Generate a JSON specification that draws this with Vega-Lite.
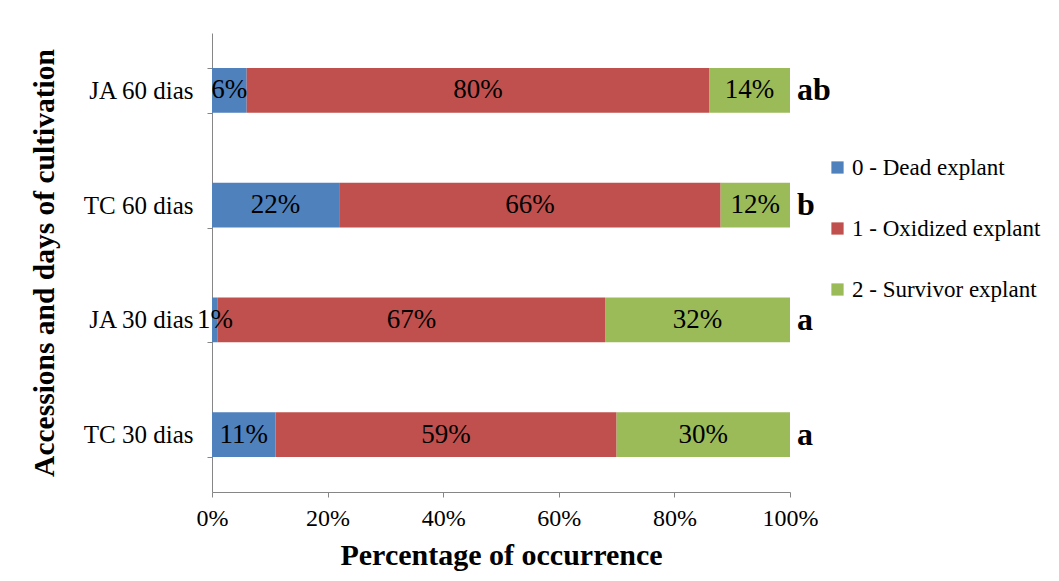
{
  "$schema": "https://vega.github.io/schema/vega-lite/v6.json",
  "width": 578,
  "height": 459,
  "autosize": {"type": "none"},
  "padding": {"left": 212, "top": 33, "right": 269, "bottom": 89},
  "background": "white",
  "config": {
    "font": "'Liberation Serif', 'Times New Roman', Times, serif",
    "view": {"stroke": null},
    "text": {"font": "'Liberation Serif', 'Times New Roman', Times, serif"},
    "legend": {"labelFont": "'Liberation Serif', 'Times New Roman', Times, serif", "titleFont": "'Liberation Serif', 'Times New Roman', Times, serif"},
    "axis": {"domainColor": "#868686", "tickColor": "#868686", "labelColor": "#000000", "titleColor": "#000000", "labelFont": "'Liberation Serif', 'Times New Roman', Times, serif", "titleFont": "'Liberation Serif', 'Times New Roman', Times, serif"}
  },
  "datasets": {
    "bars": [
      {"group": "JA 60 dias", "cls": "0 - Dead explant", "value": 0.06},
      {"group": "JA 60 dias", "cls": "1 - Oxidized explant", "value": 0.80},
      {"group": "JA 60 dias", "cls": "2 - Survivor explant", "value": 0.14},
      {"group": "TC 60 dias", "cls": "0 - Dead explant", "value": 0.22},
      {"group": "TC 60 dias", "cls": "1 - Oxidized explant", "value": 0.66},
      {"group": "TC 60 dias", "cls": "2 - Survivor explant", "value": 0.12},
      {"group": "JA 30 dias", "cls": "0 - Dead explant", "value": 0.01},
      {"group": "JA 30 dias", "cls": "1 - Oxidized explant", "value": 0.67},
      {"group": "JA 30 dias", "cls": "2 - Survivor explant", "value": 0.32},
      {"group": "TC 30 dias", "cls": "0 - Dead explant", "value": 0.11},
      {"group": "TC 30 dias", "cls": "1 - Oxidized explant", "value": 0.59},
      {"group": "TC 30 dias", "cls": "2 - Survivor explant", "value": 0.30}
    ],
    "letters": [
      {"group": "JA 60 dias", "letter": "ab"},
      {"group": "TC 60 dias", "letter": "b"},
      {"group": "JA 30 dias", "letter": "a"},
      {"group": "TC 30 dias", "letter": "a"}
    ]
  },
  "encoding": {
    "y": {
      "field": "group",
      "type": "nominal",
      "sort": ["JA 60 dias", "TC 60 dias", "JA 30 dias", "TC 30 dias"],
      "scale": {"paddingInner": 0.61, "paddingOuter": 0.305},
      "axis": {
        "title": "Accessions and days of cultivation",
        "titleFontSize": 29.5,
        "titleFontWeight": "bold",
        "titlePadding": 24,
        "labelFontSize": 25,
        "labelPadding": 14,
        "tickSize": 5,
        "tickBand": "extent"
      }
    }
  },
  "layer": [
    {
      "data": {"name": "bars"},
      "mark": {"type": "bar"},
      "encoding": {
        "x": {
          "field": "value",
          "type": "quantitative",
          "stack": "zero",
          "scale": {"domain": [0, 1], "nice": false},
          "axis": {
            "title": "Percentage of occurrence",
            "titleFontSize": 30,
            "titleFontWeight": "bold",
            "titlePadding": 10,
            "values": [0, 0.2, 0.4, 0.6, 0.8, 1],
            "format": ".0%",
            "labelFontSize": 24,
            "labelPadding": 9,
            "labelFlush": false,
            "tickSize": 5,
            "grid": false
          }
        },
        "order": {"field": "cls", "sort": "ascending"},
        "color": {
          "field": "cls",
          "type": "nominal",
          "scale": {"domain": ["0 - Dead explant", "1 - Oxidized explant", "2 - Survivor explant"], "range": ["#4F81BD", "#C0504D", "#9BBB59"]},
          "legend": {
            "title": null,
            "orient": "none",
            "legendX": 614,
            "legendY": 123,
            "symbolType": "square",
            "symbolSize": 150,
            "symbolStrokeWidth": 0,
            "labelFontSize": 23,
            "labelColor": "#000000",
            "labelOffset": 3,
            "labelLimit": 300,
            "rowPadding": 37
          }
        }
      }
    },
    {
      "data": {"name": "bars"},
      "mark": {"type": "text", "fontSize": 27, "color": "#000000", "baseline": "middle", "align": "center"},
      "encoding": {
        "x": {"field": "value", "type": "quantitative", "stack": "zero", "bandPosition": 0.5},
        "order": {"field": "cls", "sort": "ascending"},
        "detail": {"field": "cls", "type": "nominal"},
        "text": {"field": "value", "type": "quantitative", "format": ".0%"}
      }
    },
    {
      "data": {"name": "letters"},
      "mark": {"type": "text", "fontSize": 32, "fontWeight": "bold", "color": "#000000", "baseline": "middle", "align": "left", "dx": 7},
      "encoding": {
        "x": {"datum": 1, "type": "quantitative"},
        "text": {"field": "letter"}
      }
    }
  ]
}
